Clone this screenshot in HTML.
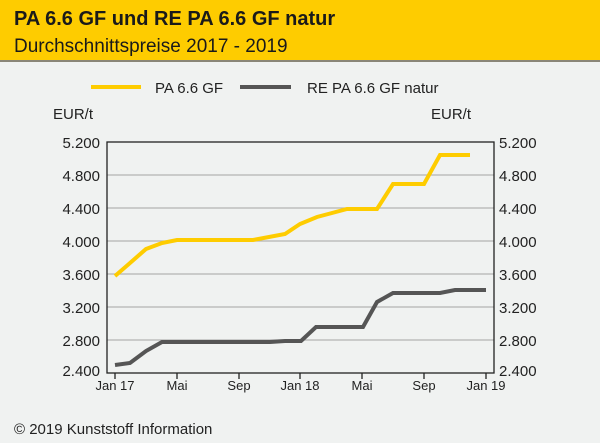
<!DOCTYPE html><html><head><style>body{margin:0}svg{display:block}</style></head><body>
<svg width="600" height="443" xmlns="http://www.w3.org/2000/svg" font-family="Liberation Sans, sans-serif">
<rect width="600" height="443" fill="#f0f2f1"/>
<rect width="600" height="61" fill="#fecc00"/>
<rect y="60" width="600" height="2" fill="#8a8678"/>
<text x="14" y="25" font-size="20" font-weight="bold" fill="#1a1a1a">PA 6.6 GF und RE PA 6.6 GF natur</text>
<text x="14" y="52" font-size="19" fill="#1a1a1a">Durchschnittspreise 2017 - 2019</text>
<line x1="91" y1="87" x2="141" y2="87" stroke="#fecc00" stroke-width="4"/>
<text x="155" y="93" font-size="15" fill="#222">PA 6.6 GF</text>
<line x1="240" y1="87" x2="291" y2="87" stroke="#555" stroke-width="4"/>
<text x="307" y="93" font-size="15" fill="#222">RE PA 6.6 GF natur</text>
<text x="53" y="119" font-size="15" fill="#222">EUR/t</text>
<text x="431" y="119" font-size="15" fill="#222">EUR/t</text>
<g stroke="#b4b4b4" stroke-width="1.3">
<line x1="107" y1="175" x2="494" y2="175"/><line x1="107" y1="208" x2="494" y2="208"/><line x1="107" y1="241" x2="494" y2="241"/><line x1="107" y1="274" x2="494" y2="274"/><line x1="107" y1="307" x2="494" y2="307"/><line x1="107" y1="340" x2="494" y2="340"/>
</g>
<rect x="107" y="142" width="387" height="231" fill="none" stroke="#222" stroke-width="1.3"/>
<g stroke="#222" stroke-width="1.3">
<line x1="115" y1="373" x2="115" y2="379"/><line x1="177" y1="373" x2="177" y2="379"/><line x1="239" y1="373" x2="239" y2="379"/><line x1="300" y1="373" x2="300" y2="379"/><line x1="362" y1="373" x2="362" y2="379"/><line x1="424" y1="373" x2="424" y2="379"/><line x1="486" y1="373" x2="486" y2="379"/>
</g>
<g font-size="15" fill="#222" text-anchor="end">
<text x="100" y="148">5.200</text><text x="100" y="181">4.800</text><text x="100" y="214">4.400</text><text x="100" y="247">4.000</text><text x="100" y="280">3.600</text><text x="100" y="313">3.200</text><text x="100" y="346">2.800</text><text x="100" y="376">2.400</text>
</g>
<g font-size="15" fill="#222">
<text x="499" y="148">5.200</text><text x="499" y="181">4.800</text><text x="499" y="214">4.400</text><text x="499" y="247">4.000</text><text x="499" y="280">3.600</text><text x="499" y="313">3.200</text><text x="499" y="346">2.800</text><text x="499" y="376">2.400</text>
</g>
<g font-size="13" fill="#222" text-anchor="middle">
<text x="115" y="390">Jan 17</text><text x="177" y="390">Mai</text><text x="239" y="390">Sep</text><text x="300" y="390">Jan 18</text><text x="362" y="390">Mai</text><text x="424" y="390">Sep</text><text x="486" y="390">Jan 19</text>
</g>
<polyline fill="none" stroke="#fecc00" stroke-width="4" points="115,276 130,263 146,249 162,243 177,240 253,240 285,234 300,224 317,217 332,213 347,209 377,209 393,184 424,184 440,155 470,155"/>
<polyline fill="none" stroke="#555" stroke-width="4" points="115,365 130,363 146,351 162,342 270,342 285,341 301,341 316,327 363,327 377,302 393,293 440,293 455,290 486,290"/>
<text x="14" y="434" font-size="15" fill="#222">© 2019 Kunststoff Information</text>
</svg></body></html>
